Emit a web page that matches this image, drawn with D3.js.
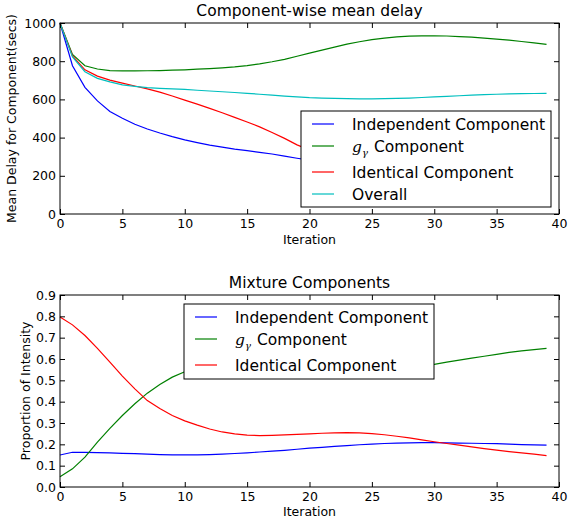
<!DOCTYPE html>
<html>
<head>
<meta charset="utf-8">
<script src="https://cdn.jsdelivr.net/npm/d3@7"></script>
<style>
  body { margin: 0; background: #fff; }
  svg { display: block; font-family: "DejaVu Sans", sans-serif; }
</style>
</head>
<body>
<div id="chart"></div>
<script>
const iterations = d3.range(0, 40);

// top panel: mean delay per component (secs)
const delayIndependent = [1000, 776, 663, 592, 537, 501, 470, 445, 424, 405, 388, 374, 361, 350, 340, 332, 323, 314, 303, 292,
  282, 274, 266, 258, 250, 243, 237, 231, 226, 221, 217, 213, 210, 207, 204, 201, 199, 197, 196, 195];
const delayGamma = [1000, 835, 776, 759, 751, 749, 749, 750, 751, 753, 755, 758, 761, 765, 770, 777, 786, 797, 810, 826,
  842, 858, 874, 889, 902, 913, 921, 927, 931, 933, 933, 932, 929, 926, 921, 916, 910, 903, 896, 888];
const delayIdentical = [1000, 828, 755, 722, 701, 685, 670, 655, 638, 618, 596, 575, 553, 530, 506, 482, 456, 427, 396, 362,
  335, 305, 275, 250, 225, 205, 188, 172, 160, 150, 140, 133, 128, 124, 121, 118, 116, 114, 112, 110];
const delayOverall = [1000, 822, 745, 710, 692, 676, 668, 662, 658, 655, 652, 648, 644, 640, 636, 632, 627, 622, 617, 613,
  609, 607, 605, 604, 603, 603, 604, 605, 607, 610, 613, 616, 619, 622, 625, 627, 629, 630, 631, 632];

// bottom panel: mixture proportions
const mixIndependent = [0.150, 0.163, 0.162, 0.161, 0.160, 0.158, 0.156, 0.154, 0.152, 0.151, 0.151, 0.151, 0.152, 0.154, 0.157, 0.160, 0.164, 0.168, 0.172, 0.177,
  0.182, 0.186, 0.190, 0.194, 0.198, 0.201, 0.204, 0.206, 0.207, 0.208, 0.208, 0.207, 0.206, 0.205, 0.204, 0.203, 0.201, 0.199, 0.197, 0.196];
const mixGamma = [0.048, 0.085, 0.140, 0.210, 0.275, 0.335, 0.390, 0.440, 0.480, 0.515, 0.540, 0.560, 0.575, 0.585, 0.590, 0.592, 0.590, 0.587, 0.583, 0.578,
  0.573, 0.568, 0.563, 0.560, 0.558, 0.558, 0.560, 0.563, 0.567, 0.571, 0.575, 0.585, 0.595, 0.604, 0.613, 0.622, 0.631, 0.638, 0.644, 0.650];
const mixIdentical = [0.797, 0.760, 0.710, 0.650, 0.585, 0.520, 0.460, 0.405, 0.368, 0.335, 0.310, 0.290, 0.272, 0.258, 0.249, 0.243, 0.241, 0.242, 0.244, 0.247,
  0.249, 0.252, 0.254, 0.255, 0.254, 0.250, 0.245, 0.238, 0.230, 0.221, 0.212, 0.204, 0.196, 0.188, 0.180, 0.173, 0.166, 0.160, 0.154, 0.147];

const xTicks = [0, 5, 10, 15, 20, 25, 30, 35, 40];
const delayTicks = [0, 200, 400, 600, 800, 1000];
const mixTicks = [0, 0.1, 0.2, 0.3, 0.4, 0.5, 0.6, 0.7, 0.8, 0.9];

const blue = "#0000ff", green = "#008000", red = "#ff0000", cyan = "#00bfbf";

const W = 568, H = 518;
const svg = d3.select("#chart").append("svg").attr("width", W).attr("height", H);

function drawPanel(opt) {
  const x = d3.scaleLinear().domain([0, 40]).range([opt.left, opt.right]);
  const y = d3.scaleLinear().domain(opt.yDomain).range([opt.bottom, opt.top]);
  const g = svg.append("g");
  const tk = 5;

  g.append("rect")
    .attr("x", opt.left).attr("y", opt.top)
    .attr("width", opt.right - opt.left).attr("height", opt.bottom - opt.top)
    .attr("fill", "#fff");

  // lines
  const line = d3.line().x((d, i) => x(iterations[i])).y(d => y(d));
  opt.series.forEach(s => {
    g.append("path").datum(s.values)
      .attr("fill", "none").attr("stroke", s.color).attr("stroke-width", 1.2)
      .attr("d", line);
  });

  // axes (ticks inward on all sides)
  g.append("g").attr("transform", `translate(0,${opt.bottom})`)
    .call(d3.axisBottom(x).tickValues(xTicks).tickSize(-tk).tickPadding(5).tickFormat(d3.format("d")));
  g.append("g").attr("transform", `translate(0,${opt.top})`)
    .call(d3.axisTop(x).tickValues(xTicks).tickSize(-tk).tickFormat(""));
  g.append("g").attr("transform", `translate(${opt.left},0)`)
    .call(d3.axisLeft(y).tickValues(opt.yTicks).tickSize(-tk).tickPadding(4).tickFormat(opt.yFormat));
  g.append("g").attr("transform", `translate(${opt.right},0)`)
    .call(d3.axisRight(y).tickValues(opt.yTicks).tickSize(-tk).tickFormat(""));

  g.selectAll(".domain").remove();
  g.selectAll(".tick line").attr("stroke", "#000");
  g.selectAll(".tick text").attr("fill", "#000")
    .style("font-family", "DejaVu Sans").style("font-size", "12.5px");

  g.append("rect")
    .attr("x", opt.left).attr("y", opt.top)
    .attr("width", opt.right - opt.left).attr("height", opt.bottom - opt.top)
    .attr("fill", "none").attr("stroke", "#000").attr("stroke-width", 1);

  // title & labels
  g.append("text").attr("x", (opt.left + opt.right) / 2).attr("y", opt.top - 7)
    .attr("text-anchor", "middle").style("font-size", "15.5px").text(opt.title);
  g.append("text").attr("x", (opt.left + opt.right) / 2).attr("y", opt.xLabelY)
    .attr("text-anchor", "middle").style("font-size", "12.5px").text("Iteration");
  g.append("text")
    .attr("transform", `translate(${opt.yLabelX},${(opt.top + opt.bottom) / 2}) rotate(-90)`)
    .attr("text-anchor", "middle").style("font-size", "12.5px").text(opt.yLabel);

  // legend
  const L = opt.legend;
  const lg = g.append("g").attr("transform", `translate(${L.x},${L.y})`);
  lg.append("rect").attr("width", L.w).attr("height", L.h)
    .attr("fill", "#fff").attr("stroke", "#000").attr("stroke-width", 1);
  opt.series.forEach((s, i) => {
    const ry = L.rows[i];
    lg.append("line").attr("x1", 11).attr("x2", 33).attr("y1", ry).attr("y2", ry)
      .attr("stroke", s.color).attr("stroke-width", 1.2);
    const t = lg.append("text").attr("x", 51).attr("y", ry + 6).style("font-size", "15.5px");
    if (s.math) {
      t.append("tspan").style("font-family", "DejaVu Serif").style("font-style", "italic").text("g");
      t.append("tspan").attr("dy", 4).style("font-family", "DejaVu Serif").style("font-style", "italic")
        .style("font-size", "10px").text("\u03b3");
      t.append("tspan").attr("dy", -4).attr("dx", 6).text("Component");
    } else {
      t.text(s.name);
    }
  });
}

drawPanel({
  left: 60, right: 559, top: 23, bottom: 214, xLabelY: 244,
  yDomain: [0, 1000], yTicks: delayTicks, yFormat: d3.format("d"),
  title: "Component-wise mean delay",
  yLabel: "Mean Delay for Component(secs)", yLabelX: 16,
  series: [
    { name: "Independent Component", color: blue, values: delayIndependent },
    { name: "g_gamma Component", color: green, values: delayGamma, math: true },
    { name: "Identical Component", color: red, values: delayIdentical },
    { name: "Overall", color: cyan, values: delayOverall }
  ],
  legend: { x: 301, y: 111, w: 250, h: 96, rows: [13, 35, 61, 83] }
});

drawPanel({
  left: 60, right: 559, top: 295, bottom: 487, xLabelY: 516,
  yDomain: [0, 0.9], yTicks: mixTicks, yFormat: d3.format(".1f"),
  title: "Mixture Components",
  yLabel: "Proportion of Intensity", yLabelX: 30,
  series: [
    { name: "Independent Component", color: blue, values: mixIndependent },
    { name: "g_gamma Component", color: green, values: mixGamma, math: true },
    { name: "Identical Component", color: red, values: mixIdentical }
  ],
  legend: { x: 184, y: 304, w: 250, h: 75, rows: [13, 35, 61] }
});
</script>
</body>
</html>
